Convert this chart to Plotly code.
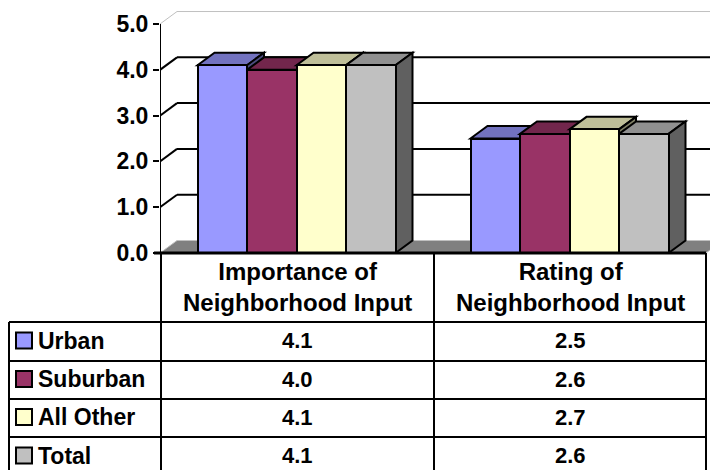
import plotly.graph_objects as go

# ---- data -------------------------------------------------------------
categories = ["Importance of<br>Neighborhood Input", "Rating of<br>Neighborhood Input"]
series_names = ["Urban", "Suburban", "All Other", "Total"]
urban = [4.1, 2.5]
suburban = [4.0, 2.6]
all_other = [4.1, 2.7]
total = [4.1, 2.6]
y_ticks = [0, 1, 2, 3, 4, 5]

series_values = [urban, suburban, all_other, total]
series_colors = ["#9999FF", "#993366", "#FFFFCC", "#C0C0C0"]

# ---- geometry (x axis in pixel-like units, y axis in score units) ----
W, H = 710, 470
M_L, M_T, M_B = 160, 8, 217
PLOT_W = W - M_L
PLOT_H = H - M_T - M_B
Y_MAX = 5.35
PX_PER_UNIT = PLOT_H / Y_MAX
CAT_W = 273.0
BAR_W = 49.5
DX = 17.0                      # depth offset, x
DY = 12.5 / PX_PER_UNIT        # depth offset, y (in score units)
FONT = "Liberation Sans, Arial, sans-serif"
BASE_Y = H - M_B               # pixel row of the zero line


def shade(hex_color, k):
    r, g, b = (int(hex_color[i:i + 2], 16) for i in (1, 3, 5))
    return "#%02X%02X%02X" % (int(r * k), int(g * k), int(b * k))


def px_x(px):
    return (px - M_L) / PLOT_W


def px_y(py):
    return (BASE_Y - py) / PLOT_H


fig = go.Figure()
shapes = []

# floor
shapes.append(dict(type="path", xref="x", yref="y", layer="below",
                   path=f"M 0,0 L {2 * CAT_W},0 L {2 * CAT_W + DX},{DY} L {DX},{DY} Z",
                   fillcolor="#808080", line=dict(color="#C0C0C0", width=1)))

# back wall grid and left wall diagonals
for t in y_ticks[1:]:
    col = "#C0C0C0" if t == y_ticks[-1] else "black"
    wid = 1 if t == y_ticks[-1] else 2
    shapes.append(dict(type="line", xref="x", yref="y", layer="below",
                       x0=DX, x1=PLOT_W + 5, y0=t + DY, y1=t + DY,
                       line=dict(color=col, width=wid)))
    shapes.append(dict(type="line", xref="x", yref="y", layer="below",
                       x0=0, x1=DX, y0=t, y1=t + DY,
                       line=dict(color=col, width=wid)))

# bars: front faces as Bar traces, top and side faces as shapes
for k in range(len(categories)):
    group_left = k * CAT_W + (CAT_W - 4 * BAR_W) / 2
    for i, (name, vals, color) in enumerate(zip(series_names, series_values, series_colors)):
        x0 = group_left + i * BAR_W
        x1 = x0 + BAR_W
        v = vals[k]
        shapes.append(dict(type="path", xref="x", yref="y", layer="below",
                           path=f"M {x0},{v} L {x0 + DX},{v + DY} L {x1 + DX},{v + DY} L {x1},{v} Z",
                           fillcolor=shade(color, 0.75), line=dict(color="black", width=2)))
        shapes.append(dict(type="path", xref="x", yref="y", layer="below",
                           path=f"M {x1},0 L {x1 + DX},{DY} L {x1 + DX},{v + DY} L {x1},{v} Z",
                           fillcolor=shade(color, 0.5), line=dict(color="black", width=2)))

for i, (name, vals, color) in enumerate(zip(series_names, series_values, series_colors)):
    xs = [k * CAT_W + (CAT_W - 4 * BAR_W) / 2 + (i + 0.5) * BAR_W for k in range(len(categories))]
    fig.add_trace(go.Bar(x=xs, y=vals, width=BAR_W, name=name,
                         marker=dict(color=color, line=dict(color="black", width=2)),
                         showlegend=False, hoverinfo="skip"))

# y axis line
shapes.append(dict(type="line", xref="x", yref="y", x0=0, x1=0, y0=0, y1=y_ticks[-1],
                   line=dict(color="black", width=2)))

# ---- data table ------------------------------------------------------
col_x = [M_L + 1, M_L + 1 + CAT_W, M_L + 1 + 2 * CAT_W - 1]
row_y = [322, 361, 399, 437, 476]
leg_left = 9
line_style = dict(color="black", width=2)

shapes.append(dict(type="line", xref="paper", yref="paper", layer="above",
                   x0=px_x(M_L - 6), x1=px_x(col_x[2]), y0=0, y1=0,
                   line=dict(color="black", width=3)))
for cx in col_x:
    shapes.append(dict(type="line", xref="paper", yref="paper", layer="above",
                       x0=px_x(cx), x1=px_x(cx), y0=0, y1=px_y(H + 5), line=line_style))
shapes.append(dict(type="line", xref="paper", yref="paper", layer="above",
                   x0=px_x(leg_left), x1=px_x(leg_left), y0=px_y(row_y[0]), y1=px_y(H + 5),
                   line=line_style))
for ry in row_y[:-1]:
    shapes.append(dict(type="line", xref="paper", yref="paper", layer="above",
                       x0=px_x(leg_left), x1=px_x(col_x[2]), y0=px_y(ry), y1=px_y(ry),
                       line=line_style))

annotations = []
for k, cat in enumerate(categories):
    cx = (col_x[k] + col_x[k + 1]) / 2
    annotations.append(dict(xref="paper", yref="paper", x=px_x(cx), y=px_y(287),
                            text=cat, showarrow=False, xanchor="center", yanchor="middle",
                            font=dict(family=FONT, size=24, color="black", weight="bold")))

for i, (name, vals, color) in enumerate(zip(series_names, series_values, series_colors)):
    cy = (row_y[i] + row_y[i + 1]) / 2 - 1
    shapes.append(dict(type="rect", xref="paper", yref="paper", layer="above",
                       x0=px_x(16), x1=px_x(32), y0=px_y(cy - 8), y1=px_y(cy + 8),
                       fillcolor=color, line=dict(color="black", width=2)))
    annotations.append(dict(xref="paper", yref="paper", x=px_x(36), y=px_y(cy),
                            text=name, showarrow=False, xanchor="left", yanchor="middle",
                            font=dict(family=FONT, size=23, color="black", weight="bold")))
    for k in range(len(categories)):
        cx = (col_x[k] + col_x[k + 1]) / 2
        annotations.append(dict(xref="paper", yref="paper", x=px_x(cx), y=px_y(cy),
                                text=f"{vals[k]:.1f}", showarrow=False,
                                xanchor="center", yanchor="middle",
                                font=dict(family=FONT, size=22, color="black", weight="bold")))

fig.update_layout(
    width=W, height=H,
    margin=dict(l=M_L, r=0, t=M_T, b=M_B, pad=0),
    paper_bgcolor="white", plot_bgcolor="white",
    barmode="overlay", bargap=0,
    shapes=shapes, annotations=annotations,
    xaxis=dict(range=[0, PLOT_W], showgrid=False, zeroline=False, showline=False,
               showticklabels=False, ticks="", fixedrange=True),
    yaxis=dict(range=[0, Y_MAX], tickvals=y_ticks, ticktext=[f"{t:.1f}" for t in y_ticks],
               showgrid=False, zeroline=False, showline=False,
               ticks="outside", ticklen=6, tickwidth=2, tickcolor="black",
               tickfont=dict(family=FONT, size=23, color="black", weight="bold"),
               fixedrange=True),
)

fig.write_html("out.html")
